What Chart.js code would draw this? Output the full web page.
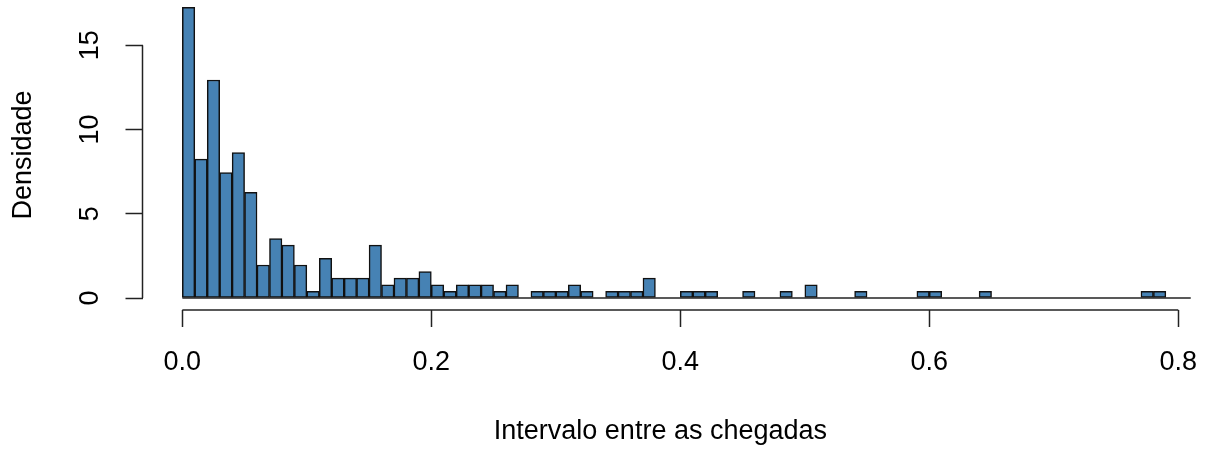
<!DOCTYPE html>
<html><head><meta charset="utf-8">
<script src="https://cdn.jsdelivr.net/npm/chart.js@4"></script>
<style>html,body{margin:0;padding:0;background:#fff}#wrap{width:1208px;height:453px}</style>
</head><body><div id="wrap"><canvas id="c"></canvas></div>
<script>
// Histogram bins: start and width (x in units of the axis)
const binStart = 0;
const binWidth = 0.01;
// Density per bin
const densities = [
  17.25, 8.24, 12.94, 7.45, 8.63, 6.27, 1.96, 3.53, 3.14, 1.96,
  0.39, 2.35, 1.18, 1.18, 1.18, 3.14, 0.78, 1.18, 1.18, 1.57,
  0.78, 0.39, 0.78, 0.78, 0.78, 0.39, 0.78, 0, 0.39, 0.39,
  0.39, 0.78, 0.39, 0, 0.39, 0.39, 0.39, 1.18, 0, 0,
  0.39, 0.39, 0.39, 0, 0, 0.39, 0, 0, 0.39, 0,
  0.78, 0, 0, 0, 0.39, 0, 0, 0, 0, 0.39,
  0.39, 0, 0, 0, 0.39, 0, 0, 0, 0, 0,
  0, 0, 0, 0, 0, 0, 0, 0.39, 0.39, 0, 0
];
const xTicks = [0, 0.2, 0.4, 0.6, 0.8];
const xTickLabels = ['0.0', '0.2', '0.4', '0.6', '0.8'];
const yTicks = [0, 5, 10, 15];
const yTickLabels = ['0', '5', '10', '15'];
const xTitle = 'Intervalo entre as chegadas';
const yTitle = 'Densidade';

const FONT = {family: '"Liberation Sans", Arial, sans-serif', size: 27};
const AXIS_COLOR = '#222';

const points = densities.map((d, i) => ({x: binStart + (i + 0.5) * binWidth, y: d}));

const noPad = s => { s.paddingLeft = 0; s.paddingRight = 0; s.paddingTop = 0; s.paddingBottom = 0; };

const rAxes = {
  id: 'rAxes',
  afterDatasetsDraw(chart) {
    const {ctx, chartArea, scales: {x, y}} = chart;
    ctx.save();
    ctx.strokeStyle = AXIS_COLOR;
    ctx.lineWidth = 1.5;
    const y0 = y.getPixelForValue(0);
    ctx.beginPath();
    ctx.moveTo(x.getPixelForValue(binStart), y0);
    ctx.lineTo(x.getPixelForValue(binStart + densities.length * binWidth), y0);
    ctx.stroke();
    ctx.beginPath();
    ctx.moveTo(x.getPixelForValue(xTicks[0]), chartArea.bottom);
    ctx.lineTo(x.getPixelForValue(xTicks[xTicks.length - 1]), chartArea.bottom);
    ctx.stroke();
    ctx.beginPath();
    ctx.moveTo(chartArea.left, y.getPixelForValue(yTicks[0]));
    ctx.lineTo(chartArea.left, y.getPixelForValue(yTicks[yTicks.length - 1]));
    ctx.stroke();
    ctx.restore();
  }
};

new Chart(document.getElementById('c'), {
  type: 'bar',
  data: {
    datasets: [{
      data: points,
      backgroundColor: '#4682B4',
      borderColor: '#111',
      borderWidth: 1.5,
      borderSkipped: false,
      barPercentage: 1,
      categoryPercentage: 1
    }]
  },
  options: {
    responsive: true,
    maintainAspectRatio: false,
    animation: false,
    layout: {padding: {left: 0, top: 0, right: 29.7, bottom: 0}},
    plugins: {legend: {display: false}, tooltip: {enabled: false}},
    scales: {
      x: {
        type: 'linear',
        offset: false,
        min: -0.032,
        max: 0.8,
        afterBuildTicks: s => { s.ticks = xTicks.map(v => ({value: v})); },
        afterFit: s => { s.height = 143; noPad(s); },
        border: {display: false},
        grid: {offset: false, display: true, drawOnChartArea: false, drawTicks: true,
               tickLength: 17, tickColor: AXIS_COLOR, tickWidth: 1.5},
        ticks: {
          font: FONT, color: '#000', padding: 19, maxRotation: 0, minRotation: 0, autoSkip: false,
          callback: (v, i) => xTickLabels[i]
        },
        title: {display: true, text: xTitle, font: FONT, color: '#000', padding: {top: 0, bottom: 5.1}}
      },
      y: {
        min: -0.712,
        max: 17.69,
        beginAtZero: false,
        afterBuildTicks: s => { s.ticks = yTicks.map(v => ({value: v})); },
        afterFit: s => { s.width = 142.5; noPad(s); },
        border: {display: false},
        grid: {display: true, drawOnChartArea: false, drawTicks: true,
               tickLength: 17, tickColor: AXIS_COLOR, tickWidth: 1.5},
        ticks: {
          font: FONT, color: '#000', padding: 19.5, minRotation: 90, maxRotation: 90,
          crossAlign: 'center', autoSkip: false,
          callback: (v, i) => yTickLabels[i]
        },
        title: {display: true, text: yTitle, font: FONT, color: '#000', padding: {top: 7.4, bottom: 0}}
      }
    }
  },
  plugins: [rAxes]
});
</script>
</body></html>
